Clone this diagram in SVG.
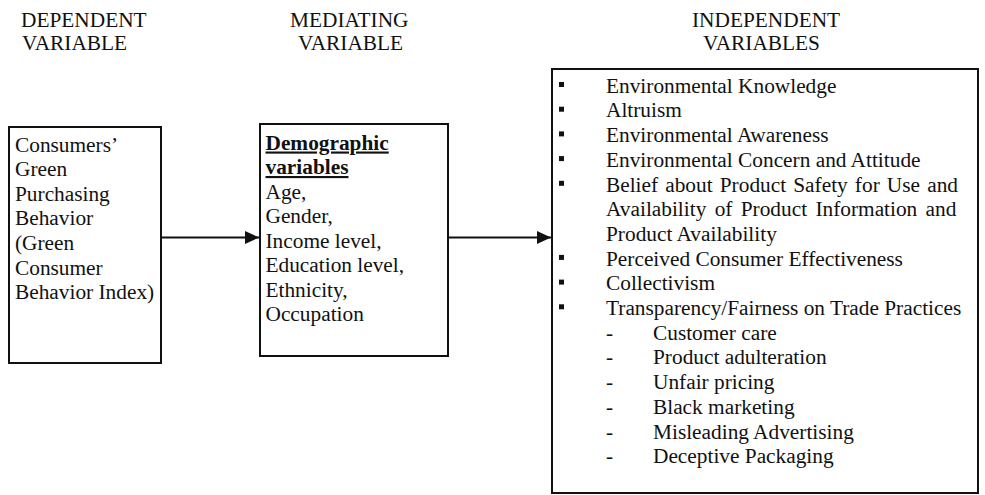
<svg xmlns="http://www.w3.org/2000/svg" width="985" height="495" viewBox="0 0 985 495">
<style>
text{font-family:"Liberation Serif","Times New Roman",serif;font-size:21.33px;fill:#111}
.box{fill:#fff;stroke:#111;stroke-width:2}
.b{font-weight:bold;text-decoration:underline}
.conn{stroke:#111;stroke-width:2;fill:none}
.blt{fill:#111}
</style>
<defs>
<marker id="ah" markerWidth="14" markerHeight="14" refX="14" refY="7" orient="auto" markerUnits="userSpaceOnUse">
<path d="M0,0.5 L14,7 L0,13.5 Z" fill="#111"/>
</marker>
</defs>
<g id="headings">
<text x="21" y="27">DEPENDENT</text>
<text x="22" y="50">VARIABLE</text>
<text x="290" y="27">MEDIATING</text>
<text x="298" y="50">VARIABLE</text>
<text x="692" y="27">INDEPENDENT</text>
<text x="703" y="50">VARIABLES</text>
</g>
<g id="dependent">
<rect class="box" x="9" y="127" width="152" height="236"/>
<text x="15" y="151.7">Consumers’</text>
<text x="15" y="176.3">Green</text>
<text x="15" y="200.8">Purchasing</text>
<text x="15" y="225.4">Behavior</text>
<text x="15" y="249.9">(Green</text>
<text x="15" y="274.5">Consumer</text>
<text x="15" y="299">Behavior Index)</text>
</g>
<g id="mediating">
<rect class="box" x="260" y="124" width="188" height="232"/>
<text class="b" x="265.5" y="149.5">Demographic</text>
<text class="b" x="265.5" y="174">variables</text>
<text x="265.5" y="198.6">Age,</text>
<text x="265.5" y="223.2">Gender,</text>
<text x="265.5" y="247.7">Income level,</text>
<text x="265.5" y="272.3">Education level,</text>
<text x="265.5" y="296.8">Ethnicity,</text>
<text x="265.5" y="321.4">Occupation</text>
</g>
<g id="independent">
<rect class="box" x="552" y="69" width="426" height="424"/>
<rect class="blt" x="559" y="82" width="5" height="5"/>
<text x="606" y="92.7">Environmental Knowledge</text>
<rect class="blt" x="559" y="106.7" width="5" height="5"/>
<text x="606" y="117.4">Altruism</text>
<rect class="blt" x="559" y="131.4" width="5" height="5"/>
<text x="606" y="142.1">Environmental Awareness</text>
<rect class="blt" x="559" y="156.1" width="5" height="5"/>
<text x="606" y="166.8">Environmental Concern and Attitude</text>
<rect class="blt" x="559" y="180.8" width="5" height="5"/>
<text x="606" y="191.5" word-spacing="1.8">Belief about Product Safety for Use and</text>
<text x="606" y="216.2" word-spacing="3">Availability of Product Information and</text>
<text x="606" y="240.9">Product Availability</text>
<rect class="blt" x="559" y="254.9" width="5" height="5"/>
<text x="606" y="265.6">Perceived Consumer Effectiveness</text>
<rect class="blt" x="559" y="279.6" width="5" height="5"/>
<text x="606" y="290.3">Collectivism</text>
<rect class="blt" x="559" y="304.3" width="5" height="5"/>
<text x="606" y="315">Transparency/Fairness on Trade Practices</text>
<text x="606" y="339.7">-</text>
<text x="653" y="339.7">Customer care</text>
<text x="606" y="364.4">-</text>
<text x="653" y="364.4">Product adulteration</text>
<text x="606" y="389.1">-</text>
<text x="653" y="389.1">Unfair pricing</text>
<text x="606" y="413.8">-</text>
<text x="653" y="413.8">Black marketing</text>
<text x="606" y="438.5">-</text>
<text x="653" y="438.5">Misleading Advertising</text>
<text x="606" y="463.2">-</text>
<text x="653" y="463.2">Deceptive Packaging</text>
</g>
<g id="connectors">
<line class="conn" x1="161" y1="237.5" x2="259" y2="237.5" marker-end="url(#ah)"/>
<line class="conn" x1="448" y1="237.5" x2="551" y2="237.5" marker-end="url(#ah)"/>
</g>
</svg>
